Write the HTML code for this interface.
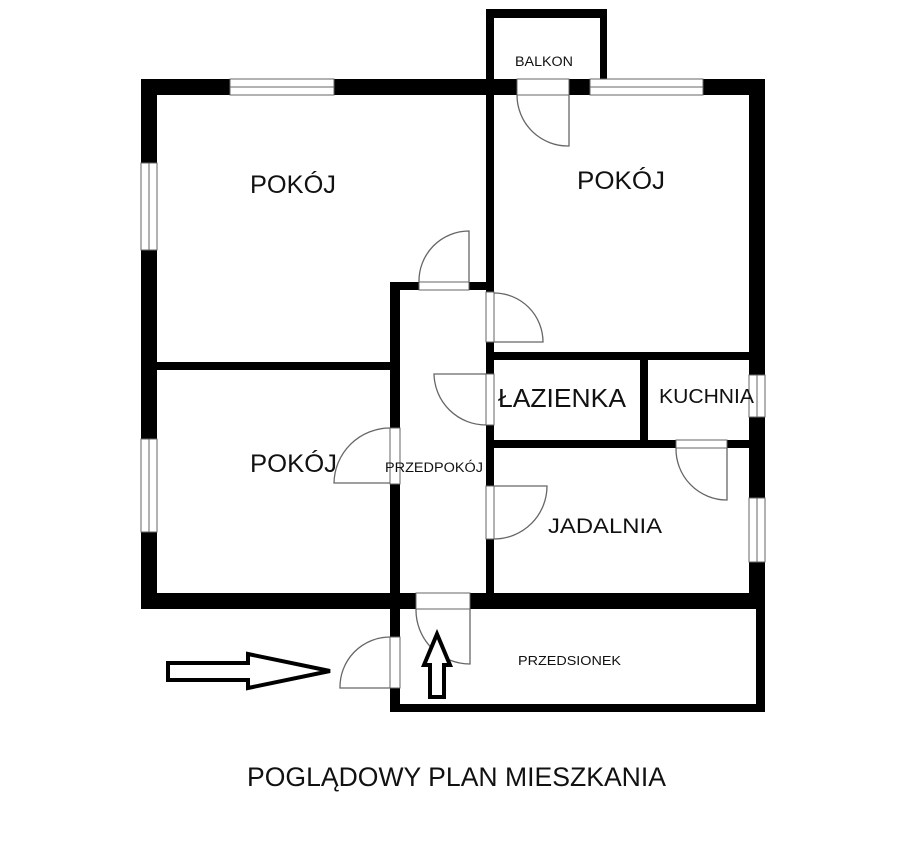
<!DOCTYPE html>
<html><head><meta charset="utf-8"><style>html,body{margin:0;padding:0;background:#fff}svg{display:block}</style></head>
<body>
<svg width="913" height="851" viewBox="0 0 913 851" xmlns="http://www.w3.org/2000/svg" font-family="Liberation Sans, Arial, sans-serif">
<rect width="913" height="851" fill="#fff"/>
<g fill="#000">
<!-- outer walls -->
<rect x="141" y="79" width="624" height="16"/>
<rect x="141" y="79" width="16" height="530"/>
<rect x="749" y="79" width="16" height="530"/>
<rect x="141" y="593" width="624" height="16"/>
<!-- balkon -->
<rect x="486" y="9" width="121" height="9"/>
<rect x="486" y="9" width="8" height="70"/>
<rect x="600" y="9" width="7" height="70"/>
<!-- central wall -->
<rect x="486" y="79" width="8" height="514"/>
<!-- left room divider -->
<rect x="141" y="362" width="255" height="8"/>
<!-- przedpokój -->
<rect x="390" y="282" width="104" height="8"/>
<rect x="390" y="282" width="10" height="430"/>
<!-- lazienka/kuchnia -->
<rect x="494" y="352" width="255" height="8"/>
<rect x="640" y="352" width="8" height="96"/>
<rect x="494" y="440" width="255" height="8"/>
<!-- przedsionek -->
<rect x="390" y="704" width="375" height="8"/>
<rect x="756" y="609" width="9" height="103"/>
</g>
<g fill="#fff" stroke="#666" stroke-width="1">
<!-- windows -->
<rect x="230" y="79" width="104" height="16"/><line x1="230" y1="87" x2="334" y2="87"/>
<rect x="590" y="79" width="113" height="16"/><line x1="590" y1="87" x2="703" y2="87"/>
<rect x="141" y="163" width="16" height="87"/><line x1="149" y1="163" x2="149" y2="250"/>
<rect x="141" y="439" width="16" height="93"/><line x1="149" y1="439" x2="149" y2="532"/>
<rect x="749" y="375" width="16" height="42"/><line x1="757" y1="375" x2="757" y2="417"/>
<rect x="749" y="498" width="16" height="64"/><line x1="757" y1="498" x2="757" y2="562"/>
<!-- door frames -->
<rect x="517" y="79" width="52" height="16"/>
<rect x="419" y="282" width="50" height="8"/>
<rect x="486" y="292" width="8" height="50"/>
<rect x="486" y="374" width="8" height="51"/>
<rect x="676" y="440" width="51" height="8"/>
<rect x="390" y="428" width="10" height="56"/>
<rect x="486" y="486" width="8" height="53"/>
<rect x="416" y="593" width="54" height="16"/>
<rect x="390" y="637" width="10" height="51"/>
</g>
<g fill="none" stroke="#666" stroke-width="1.3">
<path d="M569 95 V146 A51 51 0 0 1 517 95"/>
<path d="M469 282 V231 A50 50 0 0 0 419 282"/>
<path d="M494 342 H543 A49 49 0 0 0 494 293"/>
<path d="M486 374 H434 A52 52 0 0 0 486 425"/>
<path d="M727 448 V500 A51 51 0 0 1 676 448"/>
<path d="M390 483 H334 A56 56 0 0 1 390 428"/>
<path d="M494 486 H547 A53 53 0 0 1 494 539"/>
<path d="M470 609 V664 A54 54 0 0 1 416 609"/>
<path d="M390 688 H340 A50 50 0 0 1 390 637"/>
</g>
<g fill="#fff" stroke="#000" stroke-width="4" stroke-linejoin="miter">
<path d="M168 663 H248 V654 L330 671 L248 688 V680 H168 Z"/>
<path d="M430 697 V665 H424 L437 634 L450 665 H444 V697 Z"/>
</g>
<g fill="#111">
<text x="250" y="193" font-size="25" textLength="86" lengthAdjust="spacingAndGlyphs">POKÓJ</text>
<text x="577" y="189" font-size="25" textLength="88" lengthAdjust="spacingAndGlyphs">POKÓJ</text>
<text x="250" y="472" font-size="25" textLength="87" lengthAdjust="spacingAndGlyphs">POKÓJ</text>
<text x="498" y="407" font-size="26" textLength="128" lengthAdjust="spacingAndGlyphs">ŁAZIENKA</text>
<text x="659" y="403" font-size="20" textLength="95" lengthAdjust="spacingAndGlyphs">KUCHNIA</text>
<text x="548" y="533" font-size="21" textLength="114" lengthAdjust="spacingAndGlyphs">JADALNIA</text>
<text x="385" y="472" font-size="13.5" textLength="98" lengthAdjust="spacingAndGlyphs">PRZEDPOKÓJ</text>
<text x="515" y="66" font-size="13.5" textLength="58" lengthAdjust="spacingAndGlyphs">BALKON</text>
<text x="518" y="665" font-size="13" textLength="103" lengthAdjust="spacingAndGlyphs">PRZEDSIONEK</text>
<text x="247" y="786" font-size="27" textLength="419" lengthAdjust="spacingAndGlyphs">POGLĄDOWY PLAN MIESZKANIA</text>
</g>
</svg>
</body></html>
